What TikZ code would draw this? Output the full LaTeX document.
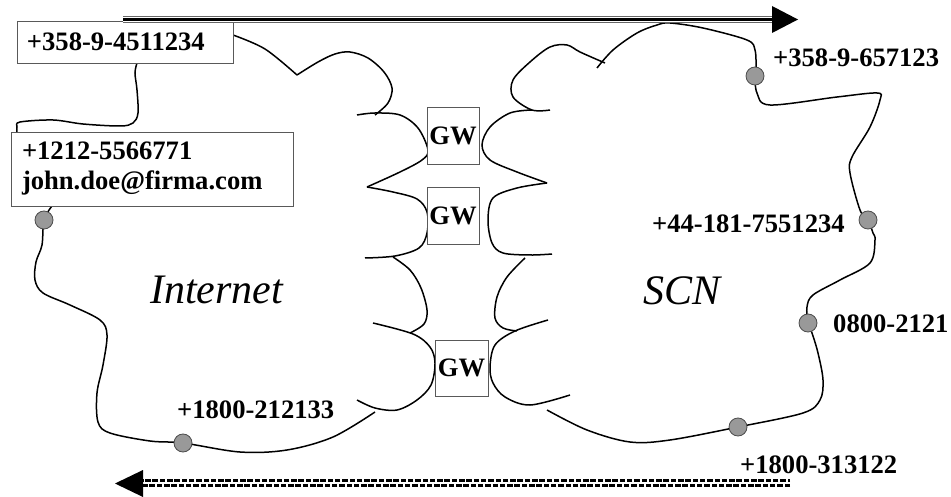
\documentclass[tikz,border=0pt]{standalone}
\usepackage{fontspec}
\setmainfont{Liberation Serif}
\begin{document}
\begin{tikzpicture}[x=1pt,y=-1pt,
  cloud/.style={line width=1.5pt, black},
  box/.style={draw=black!65, line width=0.9pt, fill=white, font=\fontsize{26.6}{30}\selectfont\bfseries, inner ysep=0pt},
  gwbox/.style={box, inner sep=0pt, align=center},
  term/.style={circle, draw=black!70, line width=0.8pt, fill=black!40, minimum size=18pt, inner sep=0pt},
  lbl/.style={font=\fontsize{26.6}{30}\selectfont\bfseries, anchor=base west, inner sep=0pt},
  netname/.style={font=\fontsize{42}{46}\selectfont\itshape, anchor=base west, inner sep=0pt}]
\useasboundingbox (0,0) rectangle (951,497);

% ---- Internet cloud
\draw[cloud] plot[smooth, tension=0.55] coordinates {(233,35) (265,49) (297,75)};
\draw[cloud] plot[smooth, tension=0.55] coordinates {(297,75) (318,62) (335,54) (350,52) (368,58) (384,72) (392,88) (388,103) (375,115)};
\draw[cloud] plot[smooth, tension=0.55] coordinates {(357,115) (375,113) (400,115) (418,128) (428,150) (422,160) (400,172) (367,187)};
\draw[cloud] plot[smooth, tension=0.55] coordinates {(367,187) (393,192) (417,199) (427,212) (427,233) (419,248) (395,256) (365,258)};
\draw[cloud] plot[smooth, tension=0.55] coordinates {(393,257) (410,270) (421,288) (427,310) (424,324) (410,333)};
\draw[cloud] plot[smooth, tension=0.55] coordinates {(373,323) (413,334) (430,347) (435,363) (431,385) (417,400) (397,410) (375,408) (357,400)};
\draw[cloud] plot[smooth, tension=0.55] coordinates {(375,412) (333,437) (287,450) (240,452) (183,443) (150,441) (110,433) (98,422) (97,393) (103,365) (107,335) (100,320) (70,305) (43,293) (35,280) (36,262) (42,245) (44,220) (52,206)};
\draw[cloud] plot[smooth, tension=0.55] coordinates {(137,63) (135,73) (137,90) (138,113) (133,123) (120,126) (83,124) (53,120) (20,122) (17,127) (17,132)};

% ---- SCN cloud
\draw[cloud] plot[smooth, tension=0.55] coordinates {(597,68) (613,50) (637,33) (657,25) (670,23) (703,28) (747,40) (755,50) (756,67)};
\draw[cloud] plot[smooth, tension=0.55] coordinates {(605,63) (580,52) (567,45) (550,47) (530,62) (513,80) (513,97) (532,110) (550,110)};
\draw[cloud] plot[smooth, tension=0.55] coordinates {(532,110) (510,113) (490,127) (482,145) (490,160) (517,172) (547,183)};
\draw[cloud] plot[smooth, tension=0.55] coordinates {(547,183) (517,188) (493,198) (488,220) (492,243) (503,253) (530,255) (552,254)};
\draw[cloud] plot[smooth, tension=0.55] coordinates {(525,258) (507,277) (497,297) (495,318) (503,328) (517,331)};
\draw[cloud] plot[smooth, tension=0.55] coordinates {(548,320) (515,331) (495,345) (490,367) (493,383) (505,397) (530,405) (570,395)};
\draw[cloud] plot[smooth, tension=0.55] coordinates {(547,410) (587,430) (630,442) (670,440) (738,427) (803,413) (820,400) (823,380) (818,353) (812,333) (808,323) (807,307) (813,295) (840,280) (870,263) (875,240) (873,233) (868,220) (860,210) (850,173) (852,157) (870,127) (880,100) (877,93) (837,97) (770,105) (757,93) (755,76)};

% ---- boxes
\node[box, text width=196pt, minimum height=42pt, inner xsep=10pt] (b1) at (125,42) {+358-9-4511234};
\node[box, text width=260pt, minimum height=74pt, inner xsep=11pt, align=left] (b2) at (152,169) {+1212-5566771\\john.doe@firma.com};

\node[gwbox, minimum width=52pt, minimum height=57pt] (gw1) at (453,135.5) {GW};
\node[gwbox, minimum width=52pt, minimum height=57pt] (gw2) at (453,215.5) {GW};
\node[gwbox, minimum width=53pt, minimum height=56pt] (gw3) at (461.5,368) {GW};

% ---- terminals
\node[term] (t1) at (44,220) {};
\node[term] (t2) at (183,443) {};
\node[term] (t3) at (755,76) {};
\node[term] (t4) at (868,220) {};
\node[term] (t5) at (808,323) {};
\node[term] (t6) at (738,427) {};

% ---- labels
\node[lbl] (l3) at (773,67) {+358-9-657123};
\node[lbl] (l4) at (652,233) {+44-181-7551234};
\node[lbl] (l5) at (833,332) {0800-2121};
\node[lbl] (l6) at (740,473) {+1800-313122};
\node[lbl] (l2) at (177,418) {+1800-212133};
\node[netname] (inet) at (150,303) {Internet};
\node[netname] (scn) at (643,305) {SCN};

% ---- top arrow
\coordinate (ta) at (123,19.5);
\coordinate (tb) at (772,19.5);
\draw[line width=6.5pt, black!60] (ta) -- (tb);
\draw[line width=2.4pt, black] (ta) -- (tb);
\draw[line width=0.7pt, white] ([yshift=-2.2pt]ta) -- ([yshift=-2.2pt]tb);
\draw[line width=0.7pt, white] ([yshift=2.2pt]ta) -- ([yshift=2.2pt]tb);
\fill[black] (772,6) -- (798,19.5) -- (772,33) -- cycle;

% ---- bottom arrow
\coordinate (ba) at (790,483);
\coordinate (bb) at (143,483);
\draw[line width=2.8pt, dash pattern=on 5.5pt off 1.8pt] ([yshift=-2.6pt]ba) -- ([yshift=-2.6pt]bb);
\draw[line width=2.8pt, dash pattern=on 5.5pt off 1.8pt, dash phase=3pt] ([yshift=2.6pt]ba) -- ([yshift=2.6pt]bb);
\fill[black] (143,470) -- (115,483.5) -- (143,497) -- cycle;
\end{tikzpicture}
\end{document}
